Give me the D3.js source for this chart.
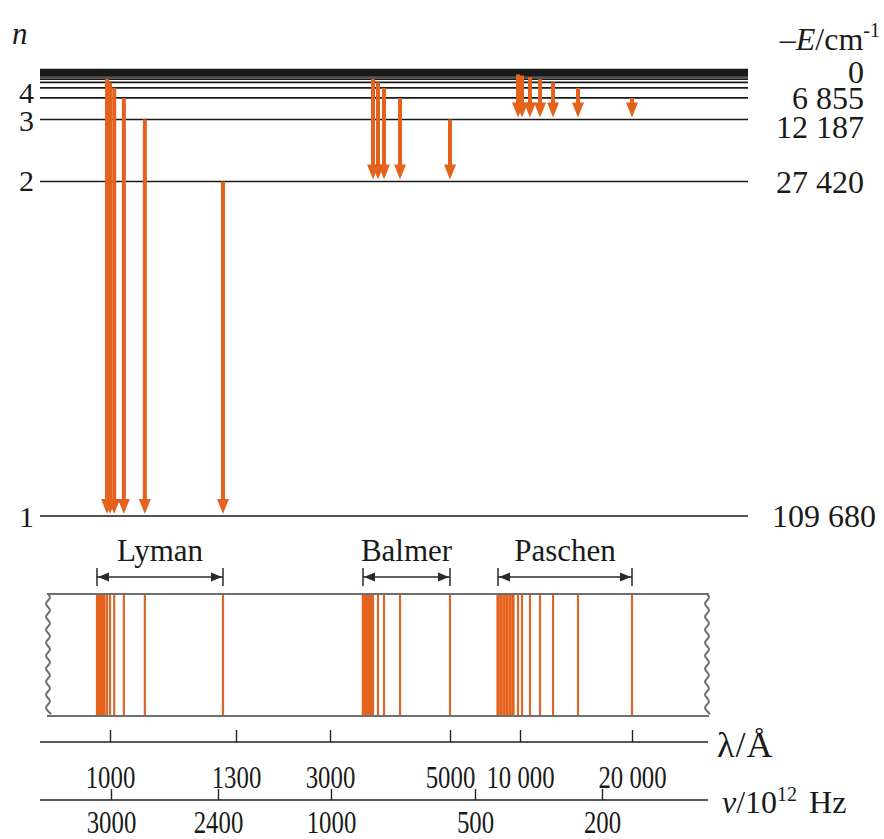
<!DOCTYPE html>
<html>
<head>
<meta charset="utf-8">
<script src="https://cdn.jsdelivr.net/npm/d3@7"></script>
<style>
  html, body { margin: 0; padding: 0; background: #fff; }
  svg { display: block; font-family: "Liberation Serif", "Times New Roman", serif; }
</style>
</head>
<body>
<svg id="chart" width="884" height="839"></svg>
<script>
// Hydrogen term values (-E, cm^-1) for n = 1..20 and the ionisation limit (0)
const levelN = [1, 2, 3, 4, 5, 6, 7, 8, 9, 10, 11, 12, 13, 14, 15, 16, 17, 18, 19, 20, Infinity];
const levelE = [109680, 27420, 12187, 6855, 4387, 3047, 2238, 1714, 1354, 1097, 906, 762, 649, 560, 487, 428, 379, 339, 304, 274, 0];

// Levels that carry a quantum-number label (left) and an energy label (right)
const leftLabelN = [1, 2, 3, 4];
const rightLabelE = [109680, 27420, 12187, 6855, 0];

// Series: lower level, resolved lines (upper level + wavelength in Å on the drawn scale),
// and the crowded lines near each series limit
const seriesNames = ["Lyman", "Balmer", "Paschen"];
const seriesLower = [1, 2, 3];

const lymanUpper  = [2, 3, 4, 5, 6, 7];
const lymanLambda = [1269, 1083, 1033, 1010, 1000, 993];
const lymanLimit  = [987, 983, 980, 976, 973, 969];

const balmerUpper  = [3, 4, 5, 6, 7];
const balmerLambda = [5000, 4167, 3900, 3800, 3717];
const balmerLimit  = [3683, 3650, 3617, 3583, 3550];

const paschenUpper  = [4, 5, 6, 7, 8, 9, 10];
const paschenLambda = [20000, 15180, 12950, 11790, 10890, 10180, 9860];
const paschenLimit  = [9500, 9290, 9070, 8860, 8640, 8430];

// Bottom axes
const lambdaTicks = [1000, 1300, 3000, 5000, 10000, 20000];
const lambdaTickLabels = ["1000", "1300", "3000", "5000", "10 000", "20 000"];
const nuTicks = [3000, 2400, 1000, 500, 200];
const nuTickLabels = ["3000", "2400", "1000", "500", "200"];

// ---------------------------------------------------------------
const ORANGE = "#e5621d";
const INK = "#1a1a1a";
const svg = d3.select("#chart");

const y = d3.scaleLinear().domain([0, 109680]).range([70, 516]);
// broken wavelength scale, one piece per spectral region
const x = d3.scaleLinear().domain(lambdaTicks).range([110, 236, 330, 450, 520, 632]);
const xNu = d3.scaleLinear().domain(nuTicks).range([111, 218, 331, 475, 602]);

const energyOf = n => levelE[levelN.indexOf(n)];
const spaced = d => d3.format(",")(d).replace(/,/g, " ");

const series = [
  { name: seriesNames[0], lower: seriesLower[0], upper: lymanUpper, lambda: lymanLambda, limit: lymanLimit, band: 2.2 },
  { name: seriesNames[1], lower: seriesLower[1], upper: balmerUpper, lambda: balmerLambda, limit: balmerLimit, band: 2.5 },
  { name: seriesNames[2], lower: seriesLower[2], upper: paschenUpper, lambda: paschenLambda, limit: paschenLimit, band: 3.2 }
];

// ---- energy levels
svg.append("g")
  .selectAll("line").data(levelE).join("line")
  .attr("x1", 40).attr("x2", 748)
  .attr("y1", d => y(d)).attr("y2", d => y(d))
  .attr("stroke", INK).attr("stroke-width", d => d === 0 ? 2.4 : 1.6);

// quantum numbers on the left
const leftShift = { 1: 11, 2: 9, 3: 11, 4: 5 };
svg.append("g")
  .selectAll("text").data(leftLabelN).join("text")
  .attr("x", 34).attr("y", n => y(energyOf(n)) + leftShift[n])
  .attr("text-anchor", "end").attr("font-size", 30).attr("fill", INK)
  .text(n => n);

svg.append("text").attr("x", 12).attr("y", 44)
  .attr("font-size", 31).attr("font-style", "italic").attr("fill", INK).text("n");

// term values on the right
const rightShift = { 0: 13, 6855: 11, 12187: 18, 27420: 11, 109680: 11 };
svg.append("g")
  .selectAll("text").data(rightLabelE).join("text")
  .attr("x", d => d === 109680 ? 772 : 864)
  .attr("y", d => y(d) + rightShift[d])
  .attr("text-anchor", d => d === 109680 ? "start" : "end")
  .attr("font-size", 32).attr("fill", INK)
  .text(spaced);

const eTitle = svg.append("text").attr("x", 880).attr("y", 50)
  .attr("text-anchor", "end").attr("font-size", 32).attr("fill", INK);
eTitle.append("tspan").text("\u2013");
eTitle.append("tspan").attr("font-style", "italic").text("E");
eTitle.append("tspan").text("/cm");
eTitle.append("tspan").attr("font-size", 20).attr("dy", -13).text("-1");

// ---- transition arrows
const HEAD = 15, HALF = 6;
series.forEach(s => {
  const g = svg.append("g").attr("fill", ORANGE).attr("stroke", ORANGE);
  const trans = s.upper.map((u, i) => ({ top: y(energyOf(u)), bottom: y(energyOf(s.lower)) - 2, cx: x(s.lambda[i]) }));
  g.selectAll("line").data(trans).join("line")
    .attr("x1", d => d.cx).attr("x2", d => d.cx)
    .attr("y1", d => d.top).attr("y2", d => d.bottom - HEAD + 2)
    .attr("stroke-width", 4);
  g.selectAll("path").data(trans).join("path")
    .attr("stroke", "none")
    .attr("d", d => `M${d.cx - HALF},${d.bottom - HEAD}L${d.cx + HALF},${d.bottom - HEAD}L${d.cx},${d.bottom}Z`);
});

// ---- series ranges with labels
const RANGE_Y = 577;
series.forEach(s => {
  const all = s.lambda.concat(s.limit);
  const x0 = x(d3.min(all)), x1 = x(d3.max(all));
  const g = svg.append("g").attr("stroke", "#2a2a2a").attr("fill", "#2a2a2a");
  g.append("line").attr("x1", x0).attr("x2", x1).attr("y1", RANGE_Y).attr("y2", RANGE_Y).attr("stroke-width", 1.5);
  [x0, x1].forEach(xe => g.append("line").attr("x1", xe).attr("x2", xe)
    .attr("y1", RANGE_Y - 9).attr("y2", RANGE_Y + 9).attr("stroke-width", 1.5));
  g.append("path").attr("stroke", "none")
    .attr("d", `M${x0 + 1},${RANGE_Y}L${x0 + 12},${RANGE_Y - 4.5}L${x0 + 12},${RANGE_Y + 4.5}Z`);
  g.append("path").attr("stroke", "none")
    .attr("d", `M${x1 - 1},${RANGE_Y}L${x1 - 12},${RANGE_Y - 4.5}L${x1 - 12},${RANGE_Y + 4.5}Z`);
  svg.append("text").attr("x", (x0 + x1) / 2).attr("y", 561)
    .attr("text-anchor", "middle").attr("font-size", 31).attr("fill", INK)
    .text(s.name);
});

// ---- spectrum strip
const STRIP_TOP = 594, STRIP_BOT = 716, STRIP_L = 48, STRIP_R = 707;
const strip = svg.append("g");
series.forEach(s => {
  strip.append("g").selectAll("line").data(s.limit).join("line")
    .attr("x1", d => x(d)).attr("x2", d => x(d))
    .attr("y1", STRIP_TOP).attr("y2", STRIP_BOT)
    .attr("stroke", ORANGE).attr("stroke-width", s.band);
  strip.append("g").selectAll("line").data(s.lambda).join("line")
    .attr("x1", d => x(d)).attr("x2", d => x(d))
    .attr("y1", STRIP_TOP).attr("y2", STRIP_BOT)
    .attr("stroke", "#d9692b").attr("stroke-width", 2.2);
});

const frame = svg.append("g").attr("stroke", "#6e6e6e").attr("fill", "none").attr("stroke-width", 2);
frame.append("line").attr("x1", STRIP_L - 1).attr("x2", STRIP_R + 2).attr("y1", STRIP_TOP).attr("y2", STRIP_TOP);
frame.append("line").attr("x1", STRIP_L - 1).attr("x2", STRIP_R + 2).attr("y1", STRIP_BOT).attr("y2", STRIP_BOT);
// torn edges of the strip
const wave = d3.line().curve(d3.curveBasis);
[STRIP_L, STRIP_R].forEach(cx => {
  const pts = d3.range(STRIP_TOP, STRIP_BOT + 0.5, 3.25).map((yy, i) => [cx + (i % 4 === 1 ? 3 : i % 4 === 3 ? -3 : 0), yy]);
  frame.append("path").attr("d", wave(pts));
});

// ---- wavelength and frequency axes
function styleAxis(g, baseline, size, sx) {
  g.select(".domain").remove();
  g.attr("font-family", null).attr("font-size", size);
  g.selectAll(".tick line").attr("stroke", "#222").attr("stroke-width", 1.4);
  g.selectAll(".tick text")
    .attr("y", baseline).attr("dy", null)
    .attr("fill", INK)
    .attr("transform", `scale(${sx},1)`);
}

const LAM_Y = 742, NU_Y = 800;
svg.append("line").attr("x1", 40).attr("x2", 708).attr("y1", LAM_Y).attr("y2", LAM_Y)
  .attr("stroke", "#222").attr("stroke-width", 1.6);
svg.append("line").attr("x1", 40).attr("x2", 708).attr("y1", NU_Y).attr("y2", NU_Y)
  .attr("stroke", "#222").attr("stroke-width", 1.6);

const lamAxis = d3.axisBottom(x).tickValues(lambdaTicks)
  .tickFormat((d, i) => lambdaTickLabels[i]).tickSizeInner(-12).tickSizeOuter(0);
svg.append("g").attr("transform", `translate(0,${LAM_Y})`).call(lamAxis)
  .call(g => styleAxis(g, 46, 31, 0.8));

const nuAxis = d3.axisBottom(xNu).tickValues(nuTicks)
  .tickFormat((d, i) => nuTickLabels[i]).tickSizeInner(-11).tickSizeOuter(0);
svg.append("g").attr("transform", `translate(0,${NU_Y})`).call(nuAxis)
  .call(g => styleAxis(g, 33, 31, 0.8));

svg.append("text").attr("x", 717).attr("y", 757).attr("font-size", 36).attr("fill", INK)
  .attr("letter-spacing", 1)
  .text("\u03bb/\u00c5");

const nuTitle = svg.append("text").attr("x", 722).attr("y", 813).attr("font-size", 32).attr("fill", INK);
nuTitle.append("tspan").attr("font-style", "italic").text("\u03bd");
nuTitle.append("tspan").text("/10");
nuTitle.append("tspan").attr("font-size", 20).attr("dy", -12).text("12");
nuTitle.append("tspan").attr("dy", 12).attr("dx", 12).text("Hz");
</script>
</body>
</html>
